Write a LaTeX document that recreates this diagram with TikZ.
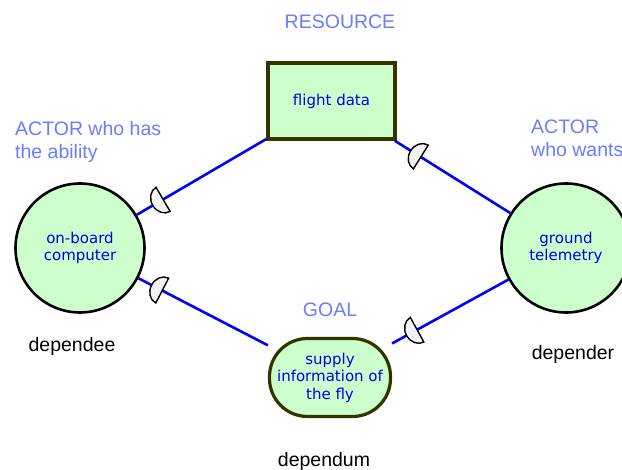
\documentclass[tikz,border=0pt]{standalone}
\usepackage{fontspec}
\setmainfont{Liberation Sans}
\newfontfamily\nodefont{DejaVu Sans}
\usetikzlibrary{calc}
\definecolor{actorfill}{HTML}{CCFFCC}
\definecolor{nodetext}{HTML}{0000E6}
\definecolor{labelblue}{HTML}{6A7DFF}
\definecolor{boxedge}{HTML}{333300}
\definecolor{linkblue}{HTML}{0000FF}
% half disc on a link: flat side across it, round side towards the link's start
\newcommand\depmark[3]{%
  \path let \p1=($(#3)-(#2)$), \n1={atan2(\y1,\x1)} in \pgfextra{\xdef\markangle{\n1}};
  \begin{scope}[shift={(#1)}, rotate=\markangle, x=1pt, y=1pt]
    \draw[black, fill=white!90!gray, line width=1.4pt]
      (2,-14) arc[start angle=-90, end angle=-270, x radius=12, y radius=14] -- cycle;
  \end{scope}}
\begin{document}
\begin{tikzpicture}[x=1pt,y=-1pt,
  nodetxt/.style={font=\nodefont\fontsize{15}{17}\selectfont, text=nodetext, align=center},
  actor/.style={circle, draw=black, line width=2.6pt, fill=actorfill,
    minimum size=129pt, inner sep=0pt, nodetxt},
  resource/.style={rectangle, draw=boxedge, line width=3.6pt, fill=actorfill,
    minimum width=127pt, minimum height=76pt, inner sep=0pt, nodetxt},
  goal/.style={rectangle, rounded corners=38pt, draw=boxedge, line width=3.2pt, fill=actorfill,
    minimum width=121pt, minimum height=78pt, inner sep=0pt, nodetxt,
    font=\nodefont\fontsize{15}{17.5}\selectfont},
  kind/.style={font=\fontsize{19.5}{23}\selectfont, text=labelblue, inner sep=0pt},
  role/.style={font=\fontsize{19.5}{23}\selectfont, text=black, inner sep=0pt},
  link/.style={draw=linkblue, line width=2.6pt}
]
\useasboundingbox (0,0) rectangle (622,470);
\fill[white] (0,0) rectangle (622,470);

% actors, resource and goal
\node[actor] (lc) at (80,248) {on-board\\computer};
\node[actor] (rc) at (566,248) {ground\\telemetry};
\node[resource] (res) at (331.5,101) {flight data};
\node[goal] (gl) at (330,377.5) {supply\\information of\\the fly};

% dependency links, with a point on each for its mark
\draw[link] (lc) -- coordinate[pos=0.19] (d1) (res);
\draw[link] (res) -- coordinate[pos=0.21] (d2) (rc);
\draw[link] (lc) -- coordinate[pos=0.17] (d3) (gl);
\draw[link] (gl) -- coordinate[pos=0.2] (d4) (rc);

% dependency marks
\depmark{d1}{lc}{res}
\depmark{d2}{res}{rc}
\depmark{d3}{lc}{gl}
\depmark{d4}{gl}{rc}

% element kinds
\node[kind] (kres) at (340,22) {RESOURCE};
\node[kind] (kgoal) at (330,310) {GOAL};
\node[kind, anchor=base west, align=left] (kleft) at (15,159) {ACTOR who has\\the ability};
\node[kind, anchor=base west, align=left] (kright) at (531,157) {ACTOR\\who wants};

% dependency roles
\node[role] (rdee) at (72,346) {dependee};
\node[role] (rder) at (573,354) {depender};
\node[role] (rdum) at (324,461) {dependum};
\end{tikzpicture}
\end{document}
